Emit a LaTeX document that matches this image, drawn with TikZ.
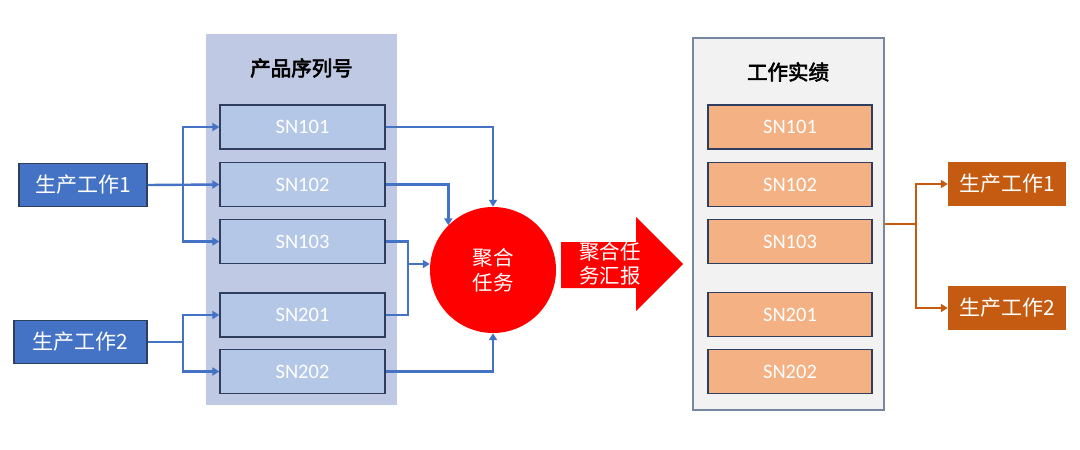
\documentclass[tikz,border=0pt]{standalone}
\usepackage{fontspec}
\usetikzlibrary{arrows.meta,calc}
\newfontfamily\cjk{Noto Sans CJK SC}
\newfontfamily\cjkb{Noto Sans CJK SC}[FakeBold=3]
\newfontfamily\carl{Carlito}
\definecolor{panelblue}{RGB}{192,201,227}
\definecolor{snblue}{RGB}{180,199,231}
\definecolor{navy}{RGB}{47,62,95}
\definecolor{mainblue}{RGB}{68,114,196}
\definecolor{lightorange}{RGB}{244,177,131}
\definecolor{darkorange}{RGB}{197,90,17}
\definecolor{panelgray}{RGB}{242,242,242}
\definecolor{panelborder}{RGB}{120,135,160}
\tikzset{
  snbox/.style={draw=navy,line width=1.2pt,minimum width=165pt,minimum height=44pt,inner sep=0pt,text=white,font=\carl\fontsize{20.5}{22}\selectfont},
  bluesn/.style={snbox,fill=snblue},
  orangesn/.style={snbox,fill=lightorange},
  workbox/.style={fill=mainblue,draw=navy,line width=1.2pt,minimum height=43pt,inner sep=0pt,text=white,font=\cjk\fontsize{21}{22}\selectfont},
  outbox/.style={fill=darkorange,minimum width=118pt,minimum height=44pt,inner sep=0pt,text=white,font=\cjk\fontsize{21}{22}\selectfont},
  conn/.style={draw=mainblue,line width=2.4pt,-{Triangle[length=7pt,width=8pt]}},
  plain/.style={draw=mainblue,line width=2.4pt},
  oconn/.style={draw=darkorange,line width=2.4pt,-{Triangle[length=7pt,width=8pt]}},
  title/.style={font=\cjkb\fontsize{20.5}{22}\selectfont,text=black},
}
\begin{document}
\begin{tikzpicture}[x=1pt,y=-1pt]
\useasboundingbox[fill=white] (0,0) rectangle (1080,450);
% left panel
\fill[panelblue] (206,34) rectangle (397,405);
\node[title] (t1) at (301.5,68) {产品序列号};
\node[bluesn] (s101) at (302.5,127) {SN101};
\node[bluesn] (s102) at (302.5,184.5) {SN102};
\node[bluesn] (s103) at (302.5,241.5) {SN103};
\node[bluesn] (s201) at (302.5,315) {SN201};
\node[bluesn] (s202) at (302.5,371.5) {SN202};
% work boxes
\node[workbox,minimum width=128pt] (w1) at (83,185) {生产工作1};
\node[workbox,minimum width=133pt] (w2) at (80.5,342) {生产工作2};
% circle
\node[circle,fill=red,minimum size=126pt,inner sep=0pt,text=white,font=\cjk\fontsize{20.5}{25}\selectfont,align=center] (agg) at (493,270) {聚合\\任务};
% connectors left
\coordinate (b1) at (183,185);
\draw[conn] (w1.east) -- (s102.west);
\draw[conn] (b1) |- (s101.west);
\draw[conn] (b1) |- (s103.west);
\coordinate (b2) at (183,342);
\draw[plain] (w2.east) -- (b2);
\draw[conn] (b2) |- (s201.west);
\draw[conn] (b2) |- (s202.west);
% connectors to circle
\draw[conn] (s101.east) -| (agg.north);
\draw[conn] (s102.east) -| (agg.135);
\coordinate (m) at (408,264);
\draw[plain] (s103.east) -| (m);
\draw[plain] (s201.east) -| (m);
\draw[conn] (m) -- (m -| agg.west);
\draw[conn] (s202.east) -| (agg.south);
% big arrow
\fill[red] (561,242) -- (636,242) -- (636,217) -- (683,264) -- (636,311) -- (636,288) -- (561,288) -- cycle;
\node[text=white,font=\cjk\fontsize{20.5}{24}\selectfont,align=left,inner sep=0pt] (rep) at (610,264) {聚合任\\务汇报};
% right panel
\node[draw=panelborder,fill=panelgray,line width=1.2pt,minimum width=191pt,minimum height=372pt,inner sep=0pt] (rp) at (788.5,224) {};
\node[title] (t2) at (788,72) {工作实绩};
\node[orangesn,minimum width=164pt] (o101) at (790,127) {SN101};
\node[orangesn,minimum width=164pt] (o102) at (790,184.5) {SN102};
\node[orangesn,minimum width=164pt] (o103) at (790,241.5) {SN103};
\node[orangesn,minimum width=164pt] (o201) at (790,314.5) {SN201};
\node[orangesn,minimum width=164pt] (o202) at (790,371.5) {SN202};
% outputs
\node[outbox] (p1) at (1007,184) {生产工作1};
\node[outbox] (p2) at (1007,308) {生产工作2};
\coordinate (b3) at (916,224);
\draw[draw=darkorange,line width=2.4pt] (rp.east |- b3) -- (b3);
\draw[oconn] (b3) |- (p1.west);
\draw[oconn] (b3) |- (p2.west);
\end{tikzpicture}
\end{document}
